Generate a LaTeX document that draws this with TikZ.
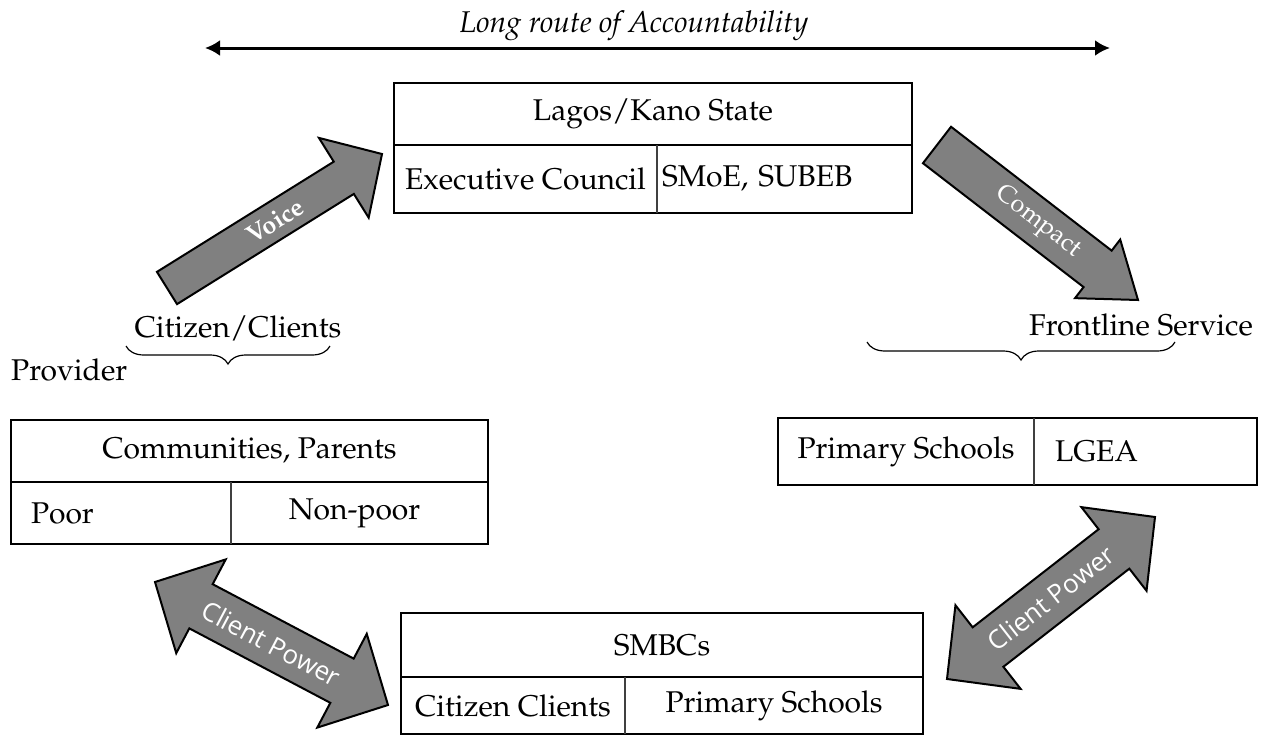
\documentclass[tikz,border=0pt]{standalone}
\usepackage[T1]{fontenc}
\usepackage{fontspec}
\usetikzlibrary{arrows.meta,calc,decorations.pathreplacing}
\newfontfamily\powerfont{Open Sans}
\newcommand\pala[1]{\fontencoding{T1}\fontfamily{ppl}\fontsize{#1}{#1}\selectfont}

\tikzset{
  boxrow/.style={draw, line width=2.5pt, inner sep=0pt, outer sep=0pt, font=\pala{30}},
  boxcell/.style={inner sep=0pt, outer sep=0pt, font=\pala{30}},
  txt/.style={inner sep=0pt, font=\pala{30}},
  divider/.style={line width=1.5pt, black!75},
  fat/.style={draw, line width=2pt, fill=gray, line join=miter},
  bracestyle/.style={decorate, decoration={brace, mirror, amplitude=18pt}, line width=1.2pt}
}

% single fat arrow: from, to, half shaft, half head, head length
\newcommand{\onearrow}[5]{%
  \coordinate (fa-n) at ($(#2)!#5!(#1)$);
  \draw[fat] ($(#1)!#3!90:(#2)$) -- ($(fa-n)!#3!90:(#2)$) -- ($(fa-n)!#4!90:(#2)$)
    -- (#2) -- ($(fa-n)!#4!-90:(#2)$) -- ($(fa-n)!#3!-90:(#2)$) -- ($(#1)!#3!-90:(#2)$) -- cycle;
}
% double fat arrow
\newcommand{\twoarrow}[5]{%
  \coordinate (fa-n) at ($(#2)!#5!(#1)$);
  \coordinate (fa-m) at ($(#1)!#5!(#2)$);
  \draw[fat] (#1) -- ($(fa-m)!#4!90:(#2)$) -- ($(fa-m)!#3!90:(#2)$) -- ($(fa-n)!#3!90:(#2)$)
    -- ($(fa-n)!#4!90:(#2)$) -- (#2) -- ($(fa-n)!#4!-90:(#2)$) -- ($(fa-n)!#3!-90:(#2)$)
    -- ($(fa-m)!#3!-90:(#2)$) -- ($(fa-m)!#4!-90:(#2)$) -- cycle;
}

\begin{document}
\begin{tikzpicture}[x=1pt, y=-1pt, >={Latex[length=15pt,width=16pt]}]
  \useasboundingbox (0,0) rectangle (1267,736);

  % long route
  \coordinate (routeL) at (205,48);
  \coordinate (routeR) at (1110,48);
  \draw[<->, line width=3pt] (routeL) -- (routeR);
  \node[txt, anchor=base] (route) at (634,32) {\itshape Long route of Accountability};

  % state
  \node[boxrow, minimum width=518pt, minimum height=62pt] (state) at (653,114) {Lagos/Kano State};
  \node[boxrow, minimum width=518pt, minimum height=68pt, anchor=north] (statelow) at (state.south) {};
  \node[boxcell, minimum width=263pt, minimum height=68pt, anchor=north west] (exec) at (state.south west) {Executive Council};
  \node[boxcell, text width=245pt, inner xsep=5pt, align=left, anchor=west] (smoe) at (exec.east) {SMoE, SUBEB};
  \draw[divider] (exec.north east) -- (exec.south east);

  % communities
  \node[boxrow, minimum width=477pt, minimum height=62pt] (comm) at (249.5,451) {Communities, Parents};
  \node[boxrow, minimum width=477pt, minimum height=62pt, anchor=north] (commlow) at (comm.south) {};
  \node[boxcell, text width=180pt, inner xsep=20pt, align=left, minimum height=62pt, anchor=north west] (poor) at (comm.south west) {Poor};
  \node[boxcell, minimum width=247pt, anchor=west] (nonpoor) at (poor.east) {Non-poor};
  \draw[divider] (poor.north east) -- (poor.south east);

  % frontline
  \node[boxrow, minimum width=479pt, minimum height=67pt] (front) at (1017.5,451.5) {};
  \node[boxcell, minimum width=256pt, minimum height=67pt, anchor=west] (prim) at (front.west) {Primary Schools};
  \node[boxcell, text width=200pt, inner xsep=21pt, align=left, anchor=west] (lgea) at (prim.east) {LGEA};
  \draw[divider] (prim.north east) -- (prim.south east);

  % smbc
  \node[boxrow, minimum width=522pt, minimum height=64pt] (smbc) at (662,645) {SMBCs};
  \node[boxrow, minimum width=522pt, minimum height=57pt, anchor=north] (smbclow) at (smbc.south) {};
  \node[boxcell, minimum width=224pt, minimum height=57pt, anchor=north west] (citcl) at (smbc.south west) {Citizen Clients};
  \node[boxcell, minimum width=298pt, anchor=west] (psch) at (citcl.east) {Primary Schools};
  \draw[divider] (citcl.north east) -- (citcl.south east);

  % side labels
  \node[txt, anchor=base] (citizen) at (238,337) {Citizen/Clients};
  \node[txt, anchor=base west] (provider) at (11,380) {Provider};
  \node[txt, anchor=base] (frontline) at (1141,335) {Frontline Service};
  \draw[bracestyle] (126,346) -- (330,346);
  \draw[bracestyle] (867,342) -- (1175,342);

  % fat arrows
  \coordinate (voiceS) at (167,288);
  \coordinate (voiceE) at (382,154);
  \onearrow{voiceS}{voiceE}{19pt}{47pt}{45pt}
  \path (voiceS) -- (voiceE) node[midway, sloped, text=white, font=\pala{25}\bfseries] (voice) {Voice};

  \coordinate (compS) at (937,145);
  \coordinate (compE) at (1138,300);
  \onearrow{compS}{compE}{23pt}{37pt}{51pt}
  \path (compS) -- (compE) node[midway, sloped, text=white, font=\pala{25}] (compact) {Compact};

  \coordinate (powL1) at (155,582);
  \coordinate (powL2) at (388,705);
  \twoarrow{powL1}{powL2}{25pt}{53pt}{52pt}
  \path (powL1) -- (powL2) node[midway, sloped, text=white, font=\powerfont\fontsize{26}{26}\selectfont] (powerL) {Client Power};

  \coordinate (powR1) at (947,679);
  \coordinate (powR2) at (1155,517);
  \twoarrow{powR1}{powR2}{25pt}{53pt}{52pt}
  \path (powR1) -- (powR2) node[midway, sloped, text=white, font=\powerfont\fontsize{26}{26}\selectfont] (powerR) {Client Power};
\end{tikzpicture}
\end{document}
